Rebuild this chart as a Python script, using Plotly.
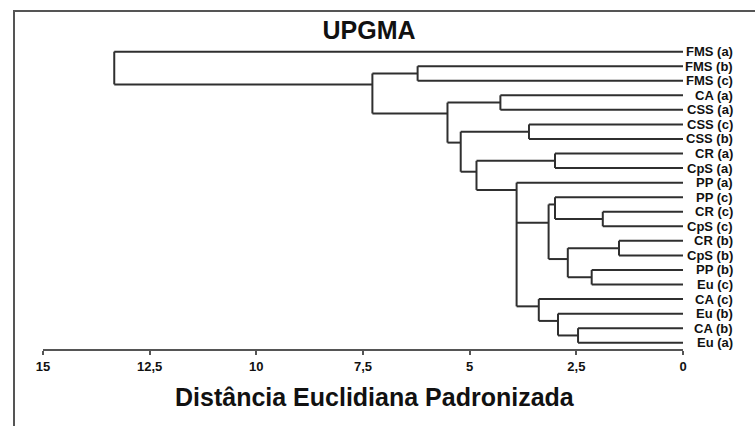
import plotly.graph_objects as go

# ---------------- data ----------------
leaf_order = ["FMS (a)", "FMS (b)", "FMS (c)", "CA (a)", "CSS (a)", "CSS (c)", "CSS (b)",
              "CR (a)", "CpS (a)", "PP (a)", "PP (c)", "CR (c)", "CpS (c)", "CR (b)",
              "CpS (b)", "PP (b)", "Eu (c)", "CA (c)", "Eu (b)", "CA (b)", "Eu (a)"]

# each merge joins leaves (by name) or earlier merges ("m<k>")
merge_children = [
    ["CR (c)", "CpS (c)"],        # m0
    ["PP (c)", "m0"],             # m1
    ["CR (b)", "CpS (b)"],        # m2
    ["PP (b)", "Eu (c)"],         # m3
    ["m2", "m3"],                 # m4
    ["m1", "m4"],                 # m5
    ["CA (b)", "Eu (a)"],         # m6
    ["Eu (b)", "m6"],             # m7
    ["CA (c)", "m7"],             # m8
    ["PP (a)", "m5", "m8"],       # m9
    ["CR (a)", "CpS (a)"],        # m10
    ["m10", "m9"],                # m11
    ["CSS (c)", "CSS (b)"],       # m12
    ["m12", "m11"],               # m13
    ["CA (a)", "CSS (a)"],        # m14
    ["m14", "m13"],               # m15
    ["FMS (b)", "FMS (c)"],       # m16
    ["m16", "m15"],               # m17
    ["FMS (a)", "m17"],           # m18 (root)
]
merge_heights = [1.88, 3.00, 1.50, 2.14, 2.70, 3.15, 2.46, 2.93, 3.38, 3.90,
                 3.00, 4.84, 3.61, 5.21, 4.28, 5.52, 6.22, 7.28, 13.33]

tick_vals = [15, 12.5, 10, 7.5, 5, 2.5, 0]
tick_text = ["15", "12,5", "10", "7,5", "5", "2,5", "0"]

title_text = "UPGMA"
axis_title = "Distância Euclidiana Padronizada"

# ---------------- layout of the tree ----------------
leaf_pos = {name: i for i, name in enumerate(leaf_order)}
attach = {}
top_leaf = {}
height = {}
for name in leaf_order:
    attach[name] = leaf_pos[name]
    top_leaf[name] = leaf_pos[name]
    height[name] = 0.0

xs, ys = [], []
for k, (ch, h) in enumerate(zip(merge_children, merge_heights)):
    key = f"m{k}"
    a = (attach[ch[0]] + top_leaf[ch[1]]) / 2.0
    attach[key] = a
    top_leaf[key] = min(top_leaf[c] for c in ch)
    height[key] = h
    for c in ch:
        xs += [height[c], h, None]
        ys += [attach[c], attach[c], None]
    yv = [attach[c] for c in ch]
    xs += [h, h, None]
    ys += [min(yv), max(yv), None]

# ---------------- figure ----------------
W, H = 755, 426
ML, MR, MT, MB = 43, 72, 40, 77
pw, ph = W - ML - MR, H - MT - MB


def px_x(p):
    return (p - ML) / pw


def px_y(p):
    return (H - MB - p) / ph


fig = go.Figure()
fig.add_trace(go.Scatter(x=xs, y=ys, mode="lines",
                         line=dict(color="#2f2f2f", width=2),
                         hoverinfo="skip", showlegend=False))

FONT = "Liberation Sans, Arial, sans-serif"

annotations = []
for name in leaf_order:
    annotations.append(dict(x=px_x(735), xref="paper", y=leaf_pos[name], yref="y",
                            text=name, showarrow=False, xanchor="right", yanchor="middle",
                            align="right",
                            font=dict(family=FONT, size=13, color="#111", weight="bold")))
annotations.append(dict(x=px_x(375), xref="paper", y=px_y(397), yref="paper",
                        text=axis_title, showarrow=False, xanchor="center", yanchor="middle",
                        font=dict(family=FONT, size=25, color="#111", weight="bold")))

fig.update_layout(
    width=W, height=H,
    margin=dict(l=ML, r=MR, t=MT, b=MB),
    paper_bgcolor="white", plot_bgcolor="white",
    title=dict(text=title_text, x=369 / W, xref="container", xanchor="center",
               y=1 - 30 / H, yref="container", yanchor="middle",
               font=dict(family=FONT, size=25, color="#111", weight="bold")),
    xaxis=dict(range=[15, 0], tickvals=tick_vals, ticktext=tick_text,
               showgrid=False, zeroline=False, showline=True, linecolor="#555", linewidth=2,
               ticks="outside", ticklen=4, tickwidth=1.5, tickcolor="#555",
               tickfont=dict(family=FONT, size=13, color="#111", weight="bold")),
    yaxis=dict(range=[20.43, -0.80], visible=False, showgrid=False, zeroline=False),
    annotations=annotations,
    shapes=[dict(type="rect", xref="paper", yref="paper",
                 x0=px_x(14), x1=px_x(770), y0=px_y(440), y1=px_y(11),
                 line=dict(color="#555", width=2), fillcolor="rgba(0,0,0,0)", layer="below")],
)

fig.write_html("out.html")
